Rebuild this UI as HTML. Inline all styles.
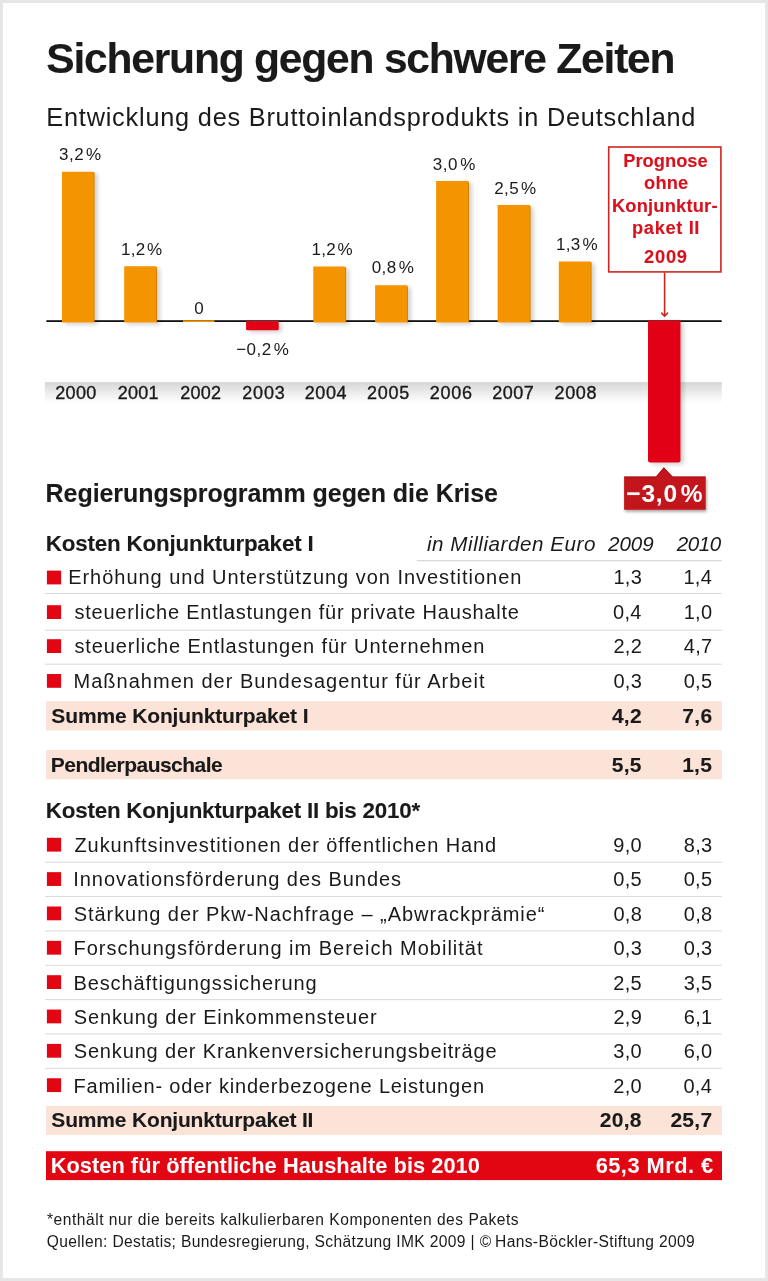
<!DOCTYPE html>
<html lang="de"><head><meta charset="utf-8"><title>Sicherung gegen schwere Zeiten</title>
<style>html,body{margin:0;padding:0;background:#fff}body{width:768px;height:1281px;overflow:hidden;font-family:"Liberation Sans", sans-serif}</style></head>
<body>
<svg width="768" height="1281" viewBox="0 0 768 1281" font-family='"Liberation Sans", sans-serif' style="display:block;white-space:pre;will-change:transform">
<defs>
<linearGradient id="yb" x1="0" y1="0" x2="0" y2="1">
<stop offset="0" stop-color="#d6d6d6"/><stop offset="0.55" stop-color="#eeeeee"/><stop offset="1" stop-color="#ffffff"/>
</linearGradient>
<filter id="sh" x="-20%" y="-5%" width="150%" height="115%">
<feGaussianBlur in="SourceAlpha" stdDeviation="2.1"/><feOffset dx="2.8" dy="1.6"/>
<feComponentTransfer><feFuncA type="linear" slope="0.19"/></feComponentTransfer>
<feMerge><feMergeNode/><feMergeNode in="SourceGraphic"/></feMerge>
</filter>
<filter id="sh2" x="-10%" y="-20%" width="125%" height="160%">
<feGaussianBlur in="SourceAlpha" stdDeviation="1.8"/><feOffset dx="0.6" dy="2.2"/>
<feComponentTransfer><feFuncA type="linear" slope="0.35"/></feComponentTransfer>
<feMerge><feMergeNode/><feMergeNode in="SourceGraphic"/></feMerge>
</filter>
</defs>
<rect x="0" y="0" width="768" height="1281" fill="#e6e6e6"/>
<rect x="3" y="3" width="762" height="1275" fill="#ffffff"/>
<rect x="44.8" y="382.1" width="677" height="21" fill="url(#yb)"/>
<rect x="46.4" y="320.20" width="675.3" height="1.80" fill="#111"/>
<g filter="url(#sh)" fill="#f39400">
<path d="M62.00 322.40 V171.80 H93.10 q1.5 0 1.5 1.5 V322.40 Z"/>
<path d="M124.20 322.40 V266.30 H155.50 q1.5 0 1.5 1.5 V322.40 Z"/>
<path d="M313.30 322.40 V266.50 H344.60 q1.5 0 1.5 1.5 V322.40 Z"/>
<path d="M375.10 322.40 V285.20 H406.40 q1.5 0 1.5 1.5 V322.40 Z"/>
<path d="M436.10 322.40 V181.10 H467.50 q1.5 0 1.5 1.5 V322.40 Z"/>
<path d="M497.60 322.40 V205.10 H529.10 q1.5 0 1.5 1.5 V322.40 Z"/>
<path d="M558.80 322.40 V261.60 H590.10 q1.5 0 1.5 1.5 V322.40 Z"/>
</g>
<rect x="93.70" y="173.30" width="0.9" height="149.10" fill="#000" opacity="0.16"/>
<rect x="156.10" y="267.80" width="0.9" height="54.60" fill="#000" opacity="0.16"/>
<rect x="345.20" y="268.00" width="0.9" height="54.40" fill="#000" opacity="0.16"/>
<rect x="407.00" y="286.70" width="0.9" height="35.70" fill="#000" opacity="0.16"/>
<rect x="468.10" y="182.60" width="0.9" height="139.80" fill="#000" opacity="0.16"/>
<rect x="529.70" y="206.60" width="0.9" height="115.80" fill="#000" opacity="0.16"/>
<rect x="590.70" y="263.10" width="0.9" height="59.30" fill="#000" opacity="0.16"/>
<rect x="183" y="320.3" width="31.4" height="1.7" fill="#f39400"/>
<g filter="url(#sh)" fill="#e20613">
<path d="M246.1 321.0 H278.7 V329.1 q0 1.2 -1.2 1.2 H247.3 q-1.2 0 -1.2 -1.2 Z"/>
<path d="M648 320.6 H680.5 V460.6 q0 1.8 -1.8 1.8 H649.8 q-1.8 0 -1.8 -1.8 Z"/>
</g>
<rect x="608.7" y="147.0" width="112.2" height="124.9" fill="#fff" stroke="#cd2620" stroke-width="1.6"/>
<path d="M664.6 272.5 V316" stroke="#cd2620" stroke-width="1.6" fill="none"/>
<path d="M661.7 313.1 L664.6 316.2 L667.5 313.1" stroke="#cd2620" stroke-width="1.6" fill="none" stroke-linecap="round" stroke-linejoin="round"/>
<path filter="url(#sh2)" d="M624.1 476.5 H656 L663.8 467.3 L672.5 476.5 H705.7 V509.8 H624.1 Z" fill="#c2141b"/>
<path d="M624.1 477 H656 L663.8 467.8 L672.5 477 H705.7" stroke="#8f0d12" stroke-width="1" fill="none" opacity=".6"/>
<rect x="416.8" y="560.2" width="305" height="1" fill="#cfcfcf"/>
<rect x="46.9" y="570.60" width="14.2" height="13.8" fill="#e20613"/>
<rect x="46.9" y="605.20" width="14.2" height="13.8" fill="#e20613"/>
<rect x="46.9" y="639.20" width="14.2" height="13.8" fill="#e20613"/>
<rect x="46.9" y="674.00" width="14.2" height="13.8" fill="#e20613"/>
<rect x="45" y="593.10" width="676.8" height="1" fill="#d9d9d9"/>
<rect x="45" y="629.70" width="676.8" height="1" fill="#d9d9d9"/>
<rect x="45" y="663.70" width="676.8" height="1" fill="#d9d9d9"/>
<rect x="46.9" y="837.80" width="14.2" height="13.8" fill="#e20613"/>
<rect x="45" y="861.70" width="676.8" height="1" fill="#d9d9d9"/>
<rect x="46.9" y="872.15" width="14.2" height="13.8" fill="#e20613"/>
<rect x="45" y="896.05" width="676.8" height="1" fill="#d9d9d9"/>
<rect x="46.9" y="906.50" width="14.2" height="13.8" fill="#e20613"/>
<rect x="45" y="930.40" width="676.8" height="1" fill="#d9d9d9"/>
<rect x="46.9" y="940.85" width="14.2" height="13.8" fill="#e20613"/>
<rect x="45" y="964.75" width="676.8" height="1" fill="#d9d9d9"/>
<rect x="46.9" y="975.20" width="14.2" height="13.8" fill="#e20613"/>
<rect x="45" y="999.10" width="676.8" height="1" fill="#d9d9d9"/>
<rect x="46.9" y="1009.55" width="14.2" height="13.8" fill="#e20613"/>
<rect x="45" y="1033.45" width="676.8" height="1" fill="#d9d9d9"/>
<rect x="46.9" y="1043.90" width="14.2" height="13.8" fill="#e20613"/>
<rect x="45" y="1067.80" width="676.8" height="1" fill="#d9d9d9"/>
<rect x="46.9" y="1078.25" width="14.2" height="13.8" fill="#e20613"/>
<rect x="46" y="701.20" width="676" height="29.20" fill="#fce3d7"/>
<rect x="46" y="749.90" width="676" height="29.40" fill="#fce3d7"/>
<rect x="46" y="1105.90" width="676" height="29.10" fill="#fce3d7"/>
<rect x="46" y="1151.2" width="676" height="28.9" fill="#e20613"/>
<text x="46.34" y="73.00" font-size="42.6" font-weight="bold" font-style="normal" fill="#1a1a1a" letter-spacing="-1.237" stroke="#1a1a1a" stroke-width="0.1" stroke-linejoin="round">Sicherung gegen schwere Zeiten</text>
<text x="46.31" y="126.00" font-size="25.3" font-weight="normal" font-style="normal" fill="#1a1a1a" letter-spacing="0.789">Entwicklung des Bruttoinlandsprodukts in Deutschland</text>
<text x="59.05" y="160.00" font-size="17" font-weight="normal" font-style="normal" fill="#1a1a1a" letter-spacing="0.468">3,2 %</text>
<text x="120.99" y="255.00" font-size="17" font-weight="normal" font-style="normal" fill="#1a1a1a" letter-spacing="0.260">1,2 %</text>
<text x="194.28" y="314.00" font-size="17" font-weight="normal" font-style="normal" fill="#1a1a1a" letter-spacing="0.000">0</text>
<text x="236.15" y="355.00" font-size="17" font-weight="normal" font-style="normal" fill="#1a1a1a" letter-spacing="0.536">−0,2 %</text>
<text x="311.49" y="255.00" font-size="17" font-weight="normal" font-style="normal" fill="#1a1a1a" letter-spacing="0.235">1,2 %</text>
<text x="371.68" y="273.00" font-size="17" font-weight="normal" font-style="normal" fill="#1a1a1a" letter-spacing="0.486">0,8 %</text>
<text x="432.65" y="170.00" font-size="17" font-weight="normal" font-style="normal" fill="#1a1a1a" letter-spacing="0.643">3,0 %</text>
<text x="494.14" y="194.00" font-size="17" font-weight="normal" font-style="normal" fill="#1a1a1a" letter-spacing="0.446">2,5 %</text>
<text x="555.89" y="250.00" font-size="17" font-weight="normal" font-style="normal" fill="#1a1a1a" letter-spacing="0.410">1,3 %</text>
<text x="55.13" y="399.00" font-size="18" font-weight="normal" font-style="normal" fill="#1a1a1a" letter-spacing="0.374" stroke="#1a1a1a" stroke-width="0.35" stroke-linejoin="round">2000</text>
<text x="117.63" y="399.00" font-size="18" font-weight="normal" font-style="normal" fill="#1a1a1a" letter-spacing="0.263" stroke="#1a1a1a" stroke-width="0.35" stroke-linejoin="round">2001</text>
<text x="180.13" y="399.00" font-size="18" font-weight="normal" font-style="normal" fill="#1a1a1a" letter-spacing="0.271" stroke="#1a1a1a" stroke-width="0.35" stroke-linejoin="round">2002</text>
<text x="242.33" y="399.00" font-size="18" font-weight="normal" font-style="normal" fill="#1a1a1a" letter-spacing="0.776" stroke="#1a1a1a" stroke-width="0.35" stroke-linejoin="round">2003</text>
<text x="304.83" y="399.00" font-size="18" font-weight="normal" font-style="normal" fill="#1a1a1a" letter-spacing="0.527" stroke="#1a1a1a" stroke-width="0.35" stroke-linejoin="round">2004</text>
<text x="367.03" y="399.00" font-size="18" font-weight="normal" font-style="normal" fill="#1a1a1a" letter-spacing="0.703" stroke="#1a1a1a" stroke-width="0.35" stroke-linejoin="round">2005</text>
<text x="429.73" y="399.00" font-size="18" font-weight="normal" font-style="normal" fill="#1a1a1a" letter-spacing="0.780" stroke="#1a1a1a" stroke-width="0.35" stroke-linejoin="round">2006</text>
<text x="492.23" y="399.00" font-size="18" font-weight="normal" font-style="normal" fill="#1a1a1a" letter-spacing="0.538" stroke="#1a1a1a" stroke-width="0.35" stroke-linejoin="round">2007</text>
<text x="554.43" y="399.00" font-size="18" font-weight="normal" font-style="normal" fill="#1a1a1a" letter-spacing="0.714" stroke="#1a1a1a" stroke-width="0.35" stroke-linejoin="round">2008</text>
<text x="623.18" y="167.00" font-size="18.3" font-weight="bold" font-style="normal" fill="#d8111c" letter-spacing="0.033" stroke="#d8111c" stroke-width="0.1" stroke-linejoin="round">Prognose</text>
<text x="644.09" y="189.00" font-size="18.3" font-weight="bold" font-style="normal" fill="#d8111c" letter-spacing="0.167" stroke="#d8111c" stroke-width="0.1" stroke-linejoin="round">ohne</text>
<text x="611.98" y="212.00" font-size="18.3" font-weight="bold" font-style="normal" fill="#d8111c" letter-spacing="0.196" stroke="#d8111c" stroke-width="0.1" stroke-linejoin="round">Konjunktur-</text>
<text x="632.07" y="234.00" font-size="18.3" font-weight="bold" font-style="normal" fill="#d8111c" letter-spacing="0.626" stroke="#d8111c" stroke-width="0.1" stroke-linejoin="round">paket II</text>
<text x="644.02" y="263.00" font-size="18.3" font-weight="bold" font-style="normal" fill="#d8111c" letter-spacing="0.763" stroke="#d8111c" stroke-width="0.1" stroke-linejoin="round">2009</text>
<text x="626.30" y="502.00" font-size="24.5" font-weight="bold" font-style="normal" fill="#fff" letter-spacing="0.821">−3,0 %</text>
<text x="45.59" y="502.00" font-size="25" font-weight="bold" font-style="normal" fill="#1a1a1a" letter-spacing="-0.057" stroke="#1a1a1a" stroke-width="0.1" stroke-linejoin="round">Regierungsprogramm gegen die Krise</text>
<text x="45.84" y="551.00" font-size="22.4" font-weight="bold" font-style="normal" fill="#1a1a1a" letter-spacing="-0.202" stroke="#1a1a1a" stroke-width="0.1" stroke-linejoin="round">Kosten Konjunkturpaket I</text>
<text x="426.96" y="551.00" font-size="20.6" font-weight="normal" font-style="italic" fill="#1a1a1a" letter-spacing="0.550">in Milliarden Euro</text>
<text x="608.00" y="551.00" font-size="20.6" font-weight="normal" font-style="italic" fill="#1a1a1a" letter-spacing="-0.017">2009</text>
<text x="676.70" y="551.00" font-size="20.6" font-weight="normal" font-style="italic" fill="#1a1a1a" letter-spacing="-0.395">2010</text>
<text x="68.16" y="584.00" font-size="20" font-weight="normal" font-style="normal" fill="#1a1a1a" letter-spacing="0.973">Erhöhung und Unterstützung von Investitionen</text>
<text x="613.41" y="584.00" font-size="20" font-weight="normal" font-style="normal" fill="#1a1a1a" letter-spacing="0.300">1,3</text>
<text x="683.42" y="584.00" font-size="20" font-weight="normal" font-style="normal" fill="#1a1a1a" letter-spacing="0.300">1,4</text>
<text x="74.43" y="619.00" font-size="20" font-weight="normal" font-style="normal" fill="#1a1a1a" letter-spacing="0.787">steuerliche Entlastungen für private Haushalte</text>
<text x="613.02" y="619.00" font-size="20" font-weight="normal" font-style="normal" fill="#1a1a1a" letter-spacing="0.300">0,4</text>
<text x="683.70" y="619.00" font-size="20" font-weight="normal" font-style="normal" fill="#1a1a1a" letter-spacing="0.300">1,0</text>
<text x="74.43" y="653.00" font-size="20" font-weight="normal" font-style="normal" fill="#1a1a1a" letter-spacing="0.904">steuerliche Entlastungen für Unternehmen</text>
<text x="613.45" y="653.00" font-size="20" font-weight="normal" font-style="normal" fill="#1a1a1a" letter-spacing="0.300">2,2</text>
<text x="683.85" y="653.00" font-size="20" font-weight="normal" font-style="normal" fill="#1a1a1a" letter-spacing="0.300">4,7</text>
<text x="73.56" y="688.00" font-size="20" font-weight="normal" font-style="normal" fill="#1a1a1a" letter-spacing="1.011">Maßnahmen der Bundesagentur für Arbeit</text>
<text x="613.41" y="688.00" font-size="20" font-weight="normal" font-style="normal" fill="#1a1a1a" letter-spacing="0.300">0,3</text>
<text x="683.70" y="688.00" font-size="20" font-weight="normal" font-style="normal" fill="#1a1a1a" letter-spacing="0.300">0,5</text>
<text x="51.33" y="723.00" font-size="21" font-weight="bold" font-style="normal" fill="#1a1a1a" letter-spacing="-0.138" stroke="#1a1a1a" stroke-width="0.1" stroke-linejoin="round">Summe Konjunkturpaket I</text>
<text x="611.90" y="723.00" font-size="21" font-weight="bold" font-style="normal" fill="#1a1a1a" letter-spacing="0.300" stroke="#1a1a1a" stroke-width="0.1" stroke-linejoin="round">4,2</text>
<text x="682.28" y="723.00" font-size="21" font-weight="bold" font-style="normal" fill="#1a1a1a" letter-spacing="0.300" stroke="#1a1a1a" stroke-width="0.1" stroke-linejoin="round">7,6</text>
<text x="50.72" y="772.00" font-size="21" font-weight="bold" font-style="normal" fill="#1a1a1a" letter-spacing="-0.514" stroke="#1a1a1a" stroke-width="0.1" stroke-linejoin="round">Pendlerpauschale</text>
<text x="611.74" y="772.00" font-size="21" font-weight="bold" font-style="normal" fill="#1a1a1a" letter-spacing="0.300" stroke="#1a1a1a" stroke-width="0.1" stroke-linejoin="round">5,5</text>
<text x="682.14" y="772.00" font-size="21" font-weight="bold" font-style="normal" fill="#1a1a1a" letter-spacing="0.300" stroke="#1a1a1a" stroke-width="0.1" stroke-linejoin="round">1,5</text>
<text x="45.84" y="818.00" font-size="22.4" font-weight="bold" font-style="normal" fill="#1a1a1a" letter-spacing="-0.224" stroke="#1a1a1a" stroke-width="0.1" stroke-linejoin="round">Kosten Konjunkturpaket II bis 2010*</text>
<text x="74.46" y="852.00" font-size="20" font-weight="normal" font-style="normal" fill="#1a1a1a" letter-spacing="0.918">Zukunftsinvestitionen der öffentlichen Hand</text>
<text x="613.30" y="852.00" font-size="20" font-weight="normal" font-style="normal" fill="#1a1a1a" letter-spacing="0.300">9,0</text>
<text x="683.81" y="852.00" font-size="20" font-weight="normal" font-style="normal" fill="#1a1a1a" letter-spacing="0.300">8,3</text>
<text x="73.25" y="886.00" font-size="20" font-weight="normal" font-style="normal" fill="#1a1a1a" letter-spacing="0.957">Innovationsförderung des Bundes</text>
<text x="613.30" y="886.00" font-size="20" font-weight="normal" font-style="normal" fill="#1a1a1a" letter-spacing="0.300">0,5</text>
<text x="683.70" y="886.00" font-size="20" font-weight="normal" font-style="normal" fill="#1a1a1a" letter-spacing="0.300">0,5</text>
<text x="73.74" y="921.00" font-size="20" font-weight="normal" font-style="normal" fill="#1a1a1a" letter-spacing="0.942">Stärkung der Pkw-Nachfrage – „Abwrackprämie“</text>
<text x="613.40" y="921.00" font-size="20" font-weight="normal" font-style="normal" fill="#1a1a1a" letter-spacing="0.300">0,8</text>
<text x="683.80" y="921.00" font-size="20" font-weight="normal" font-style="normal" fill="#1a1a1a" letter-spacing="0.300">0,8</text>
<text x="73.46" y="955.00" font-size="20" font-weight="normal" font-style="normal" fill="#1a1a1a" letter-spacing="0.997">Forschungsförderung im Bereich Mobilität</text>
<text x="613.41" y="955.00" font-size="20" font-weight="normal" font-style="normal" fill="#1a1a1a" letter-spacing="0.300">0,3</text>
<text x="683.81" y="955.00" font-size="20" font-weight="normal" font-style="normal" fill="#1a1a1a" letter-spacing="0.300">0,3</text>
<text x="73.46" y="990.00" font-size="20" font-weight="normal" font-style="normal" fill="#1a1a1a" letter-spacing="0.897">Beschäftigungssicherung</text>
<text x="613.30" y="990.00" font-size="20" font-weight="normal" font-style="normal" fill="#1a1a1a" letter-spacing="0.300">2,5</text>
<text x="683.70" y="990.00" font-size="20" font-weight="normal" font-style="normal" fill="#1a1a1a" letter-spacing="0.300">3,5</text>
<text x="73.74" y="1024.00" font-size="20" font-weight="normal" font-style="normal" fill="#1a1a1a" letter-spacing="0.871">Senkung der Einkommensteuer</text>
<text x="613.44" y="1024.00" font-size="20" font-weight="normal" font-style="normal" fill="#1a1a1a" letter-spacing="0.300">2,9</text>
<text x="683.83" y="1024.00" font-size="20" font-weight="normal" font-style="normal" fill="#1a1a1a" letter-spacing="0.300">6,1</text>
<text x="73.74" y="1058.00" font-size="20" font-weight="normal" font-style="normal" fill="#1a1a1a" letter-spacing="0.838">Senkung der Krankenversicherungsbeiträge</text>
<text x="613.30" y="1058.00" font-size="20" font-weight="normal" font-style="normal" fill="#1a1a1a" letter-spacing="0.300">3,0</text>
<text x="683.70" y="1058.00" font-size="20" font-weight="normal" font-style="normal" fill="#1a1a1a" letter-spacing="0.300">6,0</text>
<text x="73.46" y="1093.00" font-size="20" font-weight="normal" font-style="normal" fill="#1a1a1a" letter-spacing="0.806">Familien- oder kinderbezogene Leistungen</text>
<text x="613.30" y="1093.00" font-size="20" font-weight="normal" font-style="normal" fill="#1a1a1a" letter-spacing="0.300">2,0</text>
<text x="683.42" y="1093.00" font-size="20" font-weight="normal" font-style="normal" fill="#1a1a1a" letter-spacing="0.300">0,4</text>
<text x="51.33" y="1127.00" font-size="21" font-weight="bold" font-style="normal" fill="#1a1a1a" letter-spacing="-0.171" stroke="#1a1a1a" stroke-width="0.1" stroke-linejoin="round">Summe Konjunkturpaket II</text>
<text x="599.70" y="1127.00" font-size="21" font-weight="bold" font-style="normal" fill="#1a1a1a" letter-spacing="0.300" stroke="#1a1a1a" stroke-width="0.1" stroke-linejoin="round">20,8</text>
<text x="670.40" y="1127.00" font-size="21" font-weight="bold" font-style="normal" fill="#1a1a1a" letter-spacing="0.300" stroke="#1a1a1a" stroke-width="0.1" stroke-linejoin="round">25,7</text>
<text x="50.64" y="1173.00" font-size="21.8" font-weight="bold" font-style="normal" fill="#fff" letter-spacing="0.042">Kosten für öffentliche Haushalte bis 2010</text>
<text x="595.66" y="1173.00" font-size="21.8" font-weight="bold" font-style="normal" fill="#fff" letter-spacing="0.484">65,3 Mrd. €</text>
<text x="47.03" y="1225.00" font-size="15.6" font-weight="normal" font-style="normal" fill="#1a1a1a" letter-spacing="0.513">*enthält nur die bereits kalkulierbaren Komponenten des Pakets</text>
<text x="46.72" y="1247.00" font-size="15.6" font-weight="normal" font-style="normal" fill="#1a1a1a" letter-spacing="0.362">Quellen: Destatis; Bundesregierung, Schätzung IMK 2009 | © Hans-Böckler-Stiftung 2009</text>

</svg>
</body></html>
